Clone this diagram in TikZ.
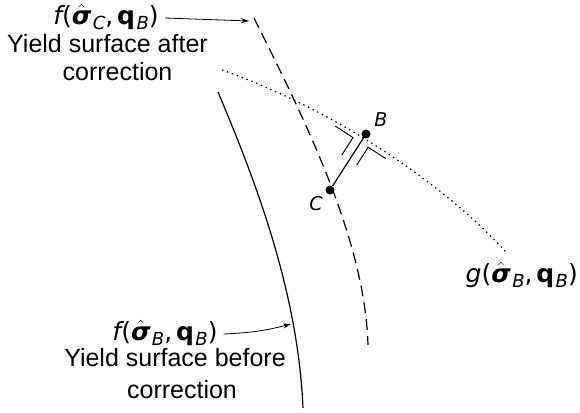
\documentclass[tikz,border=0pt]{standalone}
\usepackage{amsmath}
\usepackage{fontspec}
\setmainfont{Liberation Sans}
\newfontfamily\dvs{DejaVu Sans}
\usetikzlibrary{calc,arrows.meta}
\newcommand\msub[1]{\hspace{0.06em}\raisebox{-0.22em}{\fontsize{18}{18}\selectfont\dvs\itshape #1}}
\newcommand\hsig{$\hat{\text{\dvs\bfseries\itshape σ}}$}
\newcommand\bq{{\dvs\bfseries q}}
\newcommand\fit[1]{{\dvs\itshape #1}}
\newcommand\cm{,\hspace{0.15em}}
\tikzset{
  txt/.style={inner sep=0pt, font=\fontsize{25}{29}\selectfont},
  mth/.style={inner sep=0pt, font=\fontsize{25}{29}\selectfont\dvs},
  pt/.style={circle, fill=black, inner sep=0pt, minimum size=9pt},
  ptlbl/.style={inner sep=0pt, font=\fontsize{19}{21}\selectfont\dvs\itshape},
  lead/.style={line width=0.8pt, -{Stealth[length=8pt,width=5pt]}},
  surf/.style={line width=1.2pt},
}
\begin{document}
\begin{tikzpicture}[x=1pt,y=-1pt]
\useasboundingbox (0,0) rectangle (580,412);
% surfaces
\draw[surf] (218,92) .. controls (256,182) and (298,292) .. (303,408);
\draw[surf, dash pattern=on 11pt off 6pt] (254,18) .. controls (305,120) and (365,240) .. (368,345);
\draw[surf, dash pattern=on 1.4pt off 3.8pt] (222,70) .. controls (330,108) and (440,180) .. (506,252);
% points
\node[pt] (B) at (366,134) {};
\node[pt] (C) at (330,190) {};
\node[ptlbl] (Bl) at (381,120) {B};
\node[ptlbl] (Cl) at (316,204) {C};
\draw[surf] (B) -- (C);
% right-angle markers
\draw[line width=0.9pt] let \p1=($(C)-(B)$), \n1={atan2(\y1,\x1)} in
  ($(B)+(\n1:31pt)+({\n1+90}:9pt)$) -- ++({\n1+180}:21pt) -- ++({\n1+90}:21pt)
  ($(B)+(\n1:31pt)+({\n1-90}:9pt)$) -- ++({\n1+180}:21pt) -- ++({\n1-90}:21pt);
% labels
\node[mth] (fC) at (106,17) {\fit{f}(\hsig\msub{C}\cm\bq\msub{B})};
\node[txt] (a1) at (107.5,44) {Yield surface after};
\node[txt] (a2) at (117.5,72) {correction};
\node[mth] (fB) at (165,333) {\fit{f}(\hsig\msub{B}\cm\bq\msub{B})};
\node[txt] (b1) at (175,358) {Yield surface before};
\node[txt] (b2) at (182,390) {correction};
\node[mth, anchor=east] (gB) at (578,275) {\fit{g}(\hsig\msub{B}\cm\bq\msub{B})};
\coordinate (tipC) at (249,21);
\coordinate (tipB) at (291,324);
\draw[lead] ($(fC.east)+(6,1)$) -- (tipC);
\draw[lead] ($(fB.east)+(6,1)$) to[bend right=6] (tipB);
\end{tikzpicture}
\end{document}
